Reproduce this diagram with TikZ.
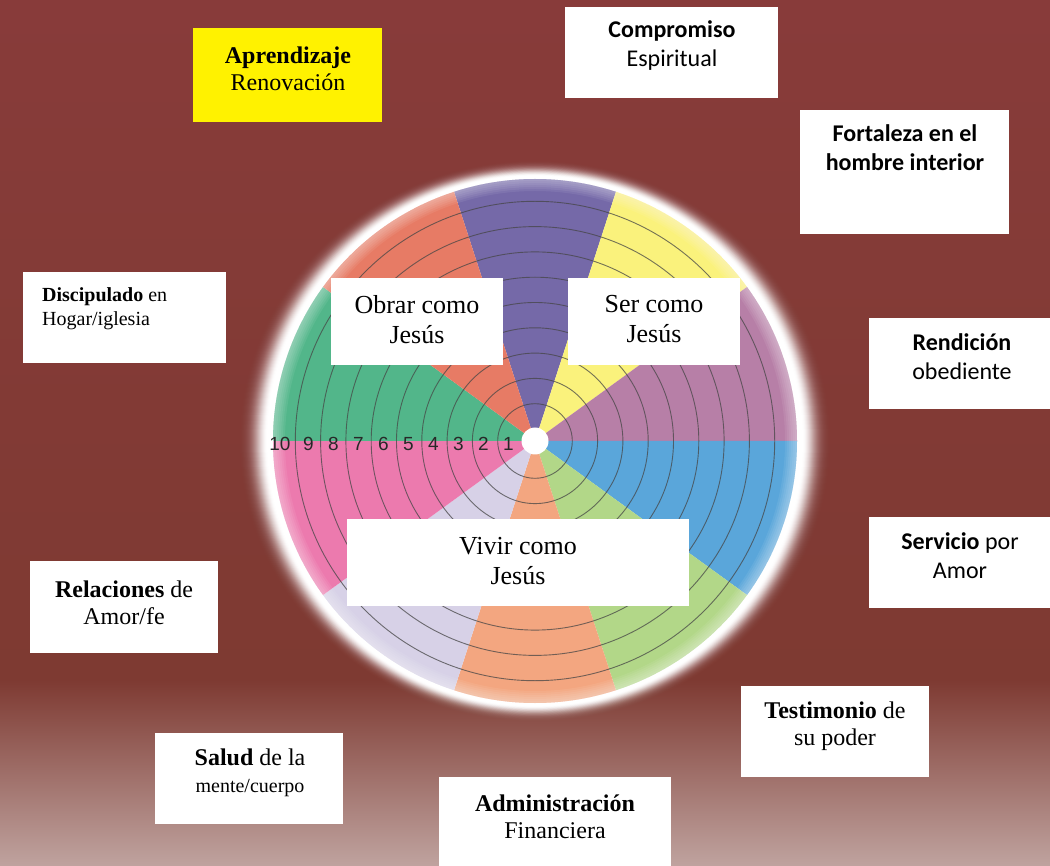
\documentclass[tikz,border=0pt]{standalone}
\usepackage{fontspec}
\setmainfont{Liberation Serif}
\newfontfamily\calib{Carlito}
\newfontfamily\numf{Liberation Sans}
\definecolor{bgtop}{RGB}{136,59,58}
\definecolor{bgmid}{RGB}{126,58,50}
\definecolor{bgbot}{RGB}{191,163,159}
\definecolor{wpurple}{RGB}{117,105,168}
\definecolor{wyellow}{RGB}{250,242,124}
\definecolor{wmauve}{RGB}{183,127,167}
\definecolor{wblue}{RGB}{90,166,218}
\definecolor{wlgreen}{RGB}{178,215,136}
\definecolor{worange}{RGB}{243,166,128}
\definecolor{wlav}{RGB}{215,209,231}
\definecolor{wpink}{RGB}{236,122,174}
\definecolor{wgreen}{RGB}{82,182,138}
\definecolor{wsalmon}{RGB}{231,123,101}
\definecolor{ringc}{RGB}{70,70,70}
\definecolor{numc}{RGB}{40,40,40}
\tikzset{
  box/.style={fill=white, draw=none, inner sep=0pt, outer sep=0pt, anchor=north west},
  serift/.style={font=\fontsize{24}{27}\selectfont, align=center, inner sep=0pt, text=black},
  sanst/.style={font=\calib\fontsize{24}{29}\selectfont, align=center, inner sep=0pt, text=black},
  innert/.style={font=\fontsize{26}{30}\selectfont, align=center, inner sep=0pt, text=black},
  ringline/.style={draw=ringc, draw opacity=0.75, line width=0.9pt},
  numlab/.style={font=\numf\fontsize{19}{19}\selectfont, text=numc, inner sep=0pt},
}
\begin{document}
\begin{tikzpicture}[x=1pt,y=-1pt]
\useasboundingbox (0,0) rectangle (1050,866);
% background
\shade[top color=bgtop, bottom color=bgmid] (0,0) rectangle (1050,682);
\shade[top color=bgmid, bottom color=bgbot] (0,680) rectangle (1050,866);
% glow
\coordinate (C) at (535,441);
\foreach \d in {40,...,6} {
  \pgfmathsetmacro\ca{exp(-((\d-6)/14)^2)}
  \pgfmathsetmacro\cb{exp(-((\d-5)/14)^2)}
  \pgfmathsetmacro\aa{1-(1-\ca)/(1-\cb)}
  \fill[white, opacity=\aa] (C) ellipse [x radius={(262+\d)*1pt}, y radius={(262+0.55*\d)*1pt}];
}
% sectors
\foreach \a/\c in {72/wpurple, 36/wyellow, 0/wmauve, -36/wblue, -72/wlgreen, -108/worange, -144/wlav, -180/wpink, 144/wgreen, 108/wsalmon}
  \fill[\c] (C) -- ++(\a:262pt) arc[start angle=\a, delta angle=36, radius=262pt] -- cycle;
% inner rim glow
\foreach \i in {1,...,6} \fill[white, opacity=0.07, even odd rule] (C) circle (262pt) circle ({(262-2*\i)*1pt});
% rings
\foreach \k in {1,...,9} \draw[ringline] (C) circle ({(12+25.3*\k)*1pt});
% numbers
\foreach \k in {1,...,9} \node[numlab] (n\k) at ({535-25*\k-1.5},444) {\k};
\node[numlab] (n10) at (280,444) {10};
\node[circle, fill=white, minimum size=27pt, inner sep=0pt] (hub) at (C) {};
% inner boxes
\node[box, minimum width=172pt, minimum height=87pt] (obrar) at (331,278) {};
\node[innert] (obrar-t) at (417,320) {Obrar como\\Jesús};
\node[box, minimum width=172pt, minimum height=87pt] (ser) at (568,278) {};
\node[innert] (ser-t) at (654,319) {Ser como\\Jesús};
\node[box, minimum width=342pt, minimum height=87pt] (vivir) at (347,519) {};
\node[innert] (vivir-t) at (518,561) {Vivir como\\Jesús};
% outer boxes
\node[box, fill=yellow, minimum width=189pt, minimum height=94pt] (apr) at (193,28) {};
\node[serift] (apr-t) at (288,69) {\textbf{Aprendizaje}\\Renovación};
\node[box, minimum width=213pt, minimum height=91pt] (comp) at (565,7) {};
\node[sanst] (comp-t) at (672,45.5) {\textbf{Compromiso}\\Espiritual};
\node[box, minimum width=209pt, minimum height=124pt] (fort) at (800,110) {};
\node[sanst] (fort-t) at (905,147.5) {\textbf{Fortaleza en el}\\\textbf{hombre interior}};
\node[box, minimum width=181pt, minimum height=91pt] (rend) at (869,318) {};
\node[sanst] (rend-t) at (962,356.5) {\textbf{Rendición}\\obediente};
\node[box, minimum width=181pt, minimum height=91pt] (serv) at (869,517) {};
\node[sanst] (serv-t) at (960,555.5) {\textbf{Servicio} por\\Amor};
\node[box, minimum width=188pt, minimum height=91pt] (test) at (741,686) {};
\node[serift] (test-t) at (835,726.5) {\textbf{Testimonio} de\\su poder};
\node[box, minimum width=232pt, minimum height=95pt] (adm) at (439,777) {};
\node[serift] (adm-t) at (555,816.5) {\textbf{Administración}\\Financiera};
\node[box, minimum width=188pt, minimum height=91pt] (salud) at (155,733) {};
\node[serift] (salud-t) at (250,773) {\textbf{Salud} de la\\{\fontsize{20}{24}\selectfont mente/cuerpo}};
\node[box, minimum width=188pt, minimum height=92pt] (rel) at (30,561) {};
\node[serift] (rel-t) at (124,603) {\textbf{Relaciones} de\\Amor/fe};
\node[box, minimum width=203pt, minimum height=91pt] (disc) at (23,272) {};
\node[serift, font=\fontsize{20}{24}\selectfont, align=left, anchor=west] (disc-t) at (42,309) {\textbf{Discipulado} en\\Hogar/iglesia};
\end{tikzpicture}
\end{document}
